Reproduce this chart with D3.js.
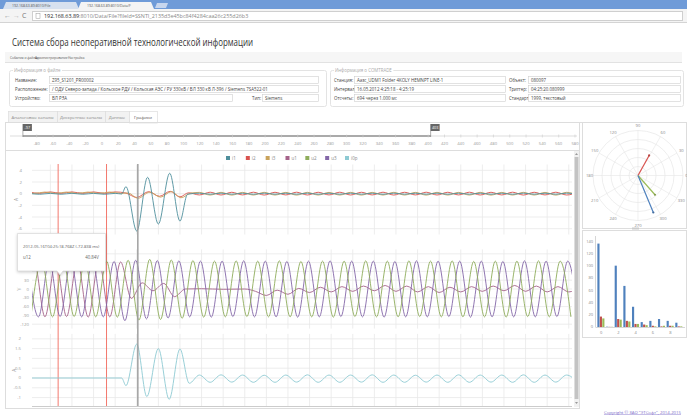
<!DOCTYPE html>
<html><head><meta charset="utf-8">
<script src="https://cdn.jsdelivr.net/npm/d3@7"></script>
<style>body{margin:0;background:#fff;overflow:hidden} svg{display:block;font-family:"Open Sans",sans-serif}</style>
</head><body><svg id="c" width="687" height="416"></svg>
<script>
// ---------------- DATA ----------------
const sliderTicks = [-80,-60,-40,-20,0,20,40,60,80,100,120,140,160,180,200,220,240,260,280,300,320,340,360,380,400,420,440,460,480,500,520,540,560,580];
const sliderRange = [-97, 403];
const seriesNames = ["i1","i2","i3","u1","u2","u3","i0p"];
const seriesColors = ["#4f8f9c","#d9534f","#c9a35c","#a5638a","#8fad5c","#8467a8","#8ecad3"];
const markerTimes = [-72.8, -28];
const cursorTime = 1;
const axA1Ticks = [-6,-4,-2,0,2,4];
const axVTicks = [-120,-90,-60,-30,0,30,60,90,120];
const axA2Ticks = [-1,-0.5,0,0.5,1,1.5,2];

// currents, channel group 1 (A): extrema [ms, A]
const i1Pre = [[-100,0.05],[-90,-0.1],[-80,0.05],[-70,-0.1],[-60,0.06],[-50,-0.1],[-40,0.05],[-30,-0.1],[-20,0.05]];
const i1Fault = [[-14,-0.05],[-10,1.2],[0,-6.4],[10,2.8],[20,-5.2],[30.5,3.5],[40,-4.7],[47,-0.1]];
const i2Pre = [[-100,0.3],[-90,0.05],[-80,0.3],[-70,0.05],[-60,0.3],[-50,0.05],[-40,0.3],[-30,0.05],[-20,0.3]];
const i2Fault = [[-10,0.1],[0,-0.65],[11,0.35],[21,-0.45],[31,0.4],[40,-0.55],[48,0.15]];
const i3Pre = [[-105,0.28],[-95,0.05],[-85,0.28],[-75,0.05],[-65,0.28],[-55,0.05],[-45,0.28],[-35,0.05],[-25,0.28],[-15,0.05]];
const i3Fault = [[-8,0.12],[1,-0.8],[12,0.25],[22,-0.6],[32,0.35],[41,-0.7],[50,0.1]];
const i0pFault = [[-100,0],[-14,0],[-10,-0.39],[0,1.73],[9.3,-0.95],[20,1.5],[30,-1.09],[40,1.48],[48.6,-0.27]];
const tPost = [58,68,78,88,98,108,118,128,138,148,158,168,178,188,198,208,218,228,238,248,258,268,278,288,298,308,318,328,338,348,358,368,378,388,398,408];
const i1Post = [0.08,-0.1,0.09,-0.1,0.08,-0.11,0.09,-0.1,0.08,-0.1,0.09,-0.11,0.08,-0.1,0.09,-0.1,0.08,-0.11,0.09,-0.1,0.08,-0.1,0.09,-0.11,0.08,-0.1,0.09,-0.1,0.08,-0.11,0.09,-0.1,0.08,-0.1,0.09,-0.11];
const i2Post = [-0.22,0.25,-0.23,0.24,-0.22,0.25,-0.24,0.24,-0.22,0.25,-0.23,0.24,-0.22,0.25,-0.23,0.24,-0.22,0.25,-0.24,0.24,-0.22,0.25,-0.23,0.24,-0.22,0.25,-0.23,0.24,-0.22,0.25,-0.24,0.24,-0.22,0.25,-0.23,0.24];
const i3Post = [0.22,-0.24,0.23,-0.25,0.22,-0.24,0.23,-0.24,0.22,-0.25,0.23,-0.24,0.22,-0.24,0.23,-0.25,0.22,-0.24,0.23,-0.24,0.22,-0.25,0.23,-0.24,0.22,-0.24,0.23,-0.25,0.22,-0.24,0.23,-0.24,0.22,-0.25,0.23,-0.24];
const i0pPost = [0.15,-0.22,0.16,-0.21,0.15,-0.22,0.14,-0.22,0.15,-0.21,0.16,-0.22,0.15,-0.22,0.15,-0.21,0.16,-0.22,0.15,-0.22,0.14,-0.21,0.15,-0.22,0.16,-0.22,0.15,-0.21,0.15,-0.22,0.16,-0.22,0.15,-0.21,0.15,-0.22];

// voltages (V): extrema times and values
const u2Times = [-98,-88,-78,-68,-58,-48,-38,-28,-18,-8,2,12,22,32,42,52,62,72,82,92,102,112,122,132,142,152,162,172,182,192,202,212,222,232,242,252,262,272,282,292,302,312,322,332,342,352,362,372,382,392,402];
const u2Vals = [-94,96,-95,95,-94,96,-95,95,-96,98,-106,101,-104,99,-100,97,-96,95,-95,96,-94,95,-95,96,-95,94,-95,95,-96,95,-94,96,-95,95,-95,96,-94,95,-95,96,-95,94,-95,95,-96,95,-94,96,-95,95,-95];
const u3Times = [-101,-91,-81,-71,-61,-51,-41,-31,-21,-11,-1,9,19,29,39,49,59,69,79,89,99,109,119,129,139,149,159,169,179,189,199,209,219,229,239,249,259,269,279,289,299,309,319,329,339,349,359,369,379,389,399,409];
const u3Vals = [95,-95,96,-94,95,-95,96,-95,94,-108,98,-102,97,-99,96,-95,95,-96,95,-94,96,-95,95,-95,94,-96,95,-95,96,-94,95,-95,95,-96,94,-95,96,-95,95,-94,95,-96,95,-95,94,-95,96,-95,95,-94,95,-95];
const u1Times = [-105,-95,-85,-75,-65,-55,-45,-35,-25,-15,-5,5,15,25,35,45,60,80,100,110,120,130,140,150,160,170,180,190,200,210,220,230,240,250,260,270,280,290,300,310,320,330,340,350,360,370,380,390,400,410];
const u1Vals = [-94,95,-95,96,-94,95,-96,95,-95,92,-32,21,-6,19,-26,0,1,-1,0,-8,-22,-4,-18,2,-12,6,-10,8,-8,10,-6,12,-8,10,-10,8,-12,6,-10,8,-8,10,-6,12,-8,10,-10,8,-10,6];

// phasors
const phasorAngles = [61, -48.6, -67.5];
const phasorMags = [0.51, 0.57, 0.89];
const phasorColors = ["#d9534f","#9bbb59","#4f81bd"];
const polarAngleLabels = [0,30,60,90,120,150,180,210,240,270,300,330];
const polarRings = [0.2,0.4,0.6,0.8,1];

// harmonics
const harmIdx = [0,1,2,3,4,5,6,7,8,9];
const harmA = [136,0.5,100,67,33,8,10,13,10,7];
const harmB = [17,0.3,13,10,5,4,2,1,2,1];
const harmC = [14,0.3,12,9,5,3,1,2,2,1];
const harmColors = ["#4f81bd","#c0504d","#9bbb59"];
const harmYTicks = [0,20,40,60,80,100,120,140];
const harmXTicks = [0,2,4,6,8];

// ---------------- DRAW ----------------
const svg = d3.select("#c");
const T = (sel,x,y,txt,size,fill,anchor)=>sel.append("text").attr("x",x).attr("y",y).text(txt)
   .attr("font-size",size).attr("fill",fill||"#444").attr("text-anchor",anchor||"start");

// browser chrome
svg.append("rect").attr("width",687).attr("height",9).attr("fill","#6f9bd8");
svg.append("path").attr("d","M3,9 L6,2 L76,2 L79,9Z").attr("fill","#d7e1ef");
svg.append("path").attr("d","M78,9 L81,2 L151,2 L154,9Z").attr("fill","#f4f4f4");
svg.append("path").attr("d","M155,8 L157,3 L168,3 L166,8Z").attr("fill","#c7d6ee");
T(svg,12,7,"192.168.63.89:8010/File",3.5,"#555");
T(svg,87,7,"192.168.63.89:8010/Data/F",3.5,"#555");
svg.append("rect").attr("y",9).attr("width",687).attr("height",13).attr("fill","#f4f4f4");
svg.append("line").attr("x1",0).attr("x2",687).attr("y1",22.5).attr("y2",22.5).attr("stroke","#d4d4d4");
T(svg,4,18,"←",7,"#999"); T(svg,13,18,"→",7,"#bbb"); T(svg,22,18,"C",7,"#777");
svg.append("rect").attr("x",32.5).attr("y",11.5).attr("width",650).attr("height",9).attr("fill","#fff").attr("stroke","#cfcfcf");
svg.append("rect").attr("x",36).attr("y",13.5).attr("width",4).attr("height",5).attr("fill","none").attr("stroke","#999").attr("stroke-width",0.5);
const url = T(svg,44,18.2,"",5.4,"#222");
url.append("tspan").text("192.168.63.89").attr("fill","#222");
url.append("tspan").text(":8010/Data/File?fileId=SSNTI_2135d3e45bc84f4284caa26c255d26b3").attr("fill","#888");

// title + menu
T(svg,12,45.5,"Система сбора неоперативной технологической информации",10.5,"#333").attr("textLength",241).attr("lengthAdjust","spacingAndGlyphs");
svg.append("rect").attr("x",5).attr("y",52).attr("width",677).attr("height",10).attr("fill","#f6f6f6");
svg.append("line").attr("x1",5).attr("x2",682).attr("y1",62.5).attr("y2",62.5).attr("stroke","#e2e2e2");
[["События и файлы",10],["Администрирование",35],["Настройка",68]].forEach(([n,x0])=>
  T(svg,x0,58.6,n,3.2,"#555"));

// fieldsets
function fieldset(x,y,w,h,leg){
  svg.append("rect").attr("x",x+.5).attr("y",y+.5).attr("width",w).attr("height",h).attr("rx",2).attr("fill","none").attr("stroke","#e3e3e3");
  const bgr = svg.append("rect").attr("fill","#fff");
  const t = T(svg,x+5,y+2,leg,4.4,"#aaa");
  const bb = t.node().getBBox();
  bgr.attr("x",bb.x-1).attr("y",y-1).attr("width",bb.width+2).attr("height",3);
}
function input(x,y,w,txt){
  svg.append("rect").attr("x",x+.5).attr("y",y+.5).attr("width",w).attr("height",7).attr("fill","#fff").attr("stroke","#cfcfcf").attr("stroke-width",0.6);
  T(svg,x+3,y+5.6,txt,4.4,"#444");
}
fieldset(9,70,317,36,"Информация о файле");
const rowsY = [76,85,94];
T(svg,15,rowsY[0]+5.6,"Название:",4.4,"#444");
T(svg,15,rowsY[1]+5.6,"Расположение:",4.4,"#444");
T(svg,15,rowsY[2]+5.6,"Устройство:",4.4,"#444");
input(49,rowsY[0],269,"Z95_S1201_PR00002");
input(49,rowsY[1],269,"/ ОДУ Северо-запада / Кольское РДУ / Кольская АЭС / РУ 330кВ / ВЛ 330 кВ Л-396 / Siemens 7SA522-01");
input(49,rowsY[2],183,"ВЛ РЗА");
T(svg,252,rowsY[2]+5.6,"Тип:",4.4,"#444");
input(262,rowsY[2],56,"Siemens");
fieldset(330,70,353,36,"Информация о COMTRADE");
T(svg,334,rowsY[0]+5.6,"Станция:",4.4,"#444");
T(svg,334,rowsY[1]+5.6,"Интервал:",4.4,"#444");
T(svg,334,rowsY[2]+5.6,"Отсчеты:",4.4,"#444");
input(354,rowsY[0],151,"Аазс_UDM1   Folder   4KOLY HEMNPT LINE-1");
input(354,rowsY[1],151,"16.05.2012 4:25:18 - 4:25:19");
input(354,rowsY[2],151,"694 через 1.000 мс");
T(svg,509,rowsY[0]+5.6,"Объект:",4.4,"#444");
T(svg,509,rowsY[1]+5.6,"Триггер:",4.4,"#444");
T(svg,509,rowsY[2]+5.6,"Стандарт:",4.4,"#444");
input(528,rowsY[0],152,"080097");
input(528,rowsY[1],152,"04:25:20.080999");
input(528,rowsY[2],152,"1999, текстовый");

// tabs
const tabs = [["Аналоговые каналы",8,49],["Дискретные каналы",57,48],["Данные",105,24],["Графики",129,28]];
svg.append("line").attr("x1",5).attr("x2",687).attr("y1",122.5).attr("y2",122.5).attr("stroke","#ddd");
tabs.forEach(([n,x,w],i)=>{
  const act = i===3;
  svg.append("rect").attr("x",x+.5).attr("y",111.5).attr("width",w).attr("height",act?11.5:11).attr("fill",act?"#fff":"#f2f2f2").attr("stroke","#ddd").attr("stroke-width",0.7);
  T(svg,x+w/2,118.8,n,4.3,act?"#555":"#888","middle");
});

// main panel frame
svg.append("rect").attr("x",5.5).attr("y",122.5).attr("width",574).attr("height",286).attr("fill","none").attr("stroke","#ddd");

// slider
const sx = d3.scaleLinear().domain([0,400]).range([102,428.2]);
svg.append("line").attr("x1",10).attr("x2",577).attr("y1",136).attr("y2",136).attr("stroke","#ddd").attr("stroke-width",1);
svg.append("line").attr("x1",sx(sliderRange[0])).attr("x2",sx(sliderRange[1])).attr("y1",136).attr("y2",136).attr("stroke","#666").attr("stroke-width",1.2);
sliderTicks.forEach(v=>{
  svg.append("line").attr("x1",sx(v)).attr("x2",sx(v)).attr("y1",134.5).attr("y2",137.5).attr("stroke","#ccc").attr("stroke-width",0.6);
  T(svg,sx(v),145,v,4.2,"#999","middle");
});
sliderRange.forEach(v=>{
  svg.append("line").attr("x1",sx(v)).attr("x2",sx(v)).attr("y1",124).attr("y2",137).attr("stroke","#777").attr("stroke-width",0.6);
  svg.append("rect").attr("x",sx(v)).attr("y",124).attr("width",9).attr("height",7).attr("fill","#666");
  T(svg,sx(v)+4.5,129.2,v,3.8,"#fff","middle");
});
svg.append("line").attr("x1",6).attr("x2",579).attr("y1",150.5).attr("y2",150.5).attr("stroke","#ddd");

// legend
const lx = d3.scalePoint().domain(seriesNames).range([226,345]);
seriesNames.forEach((n,i)=>{
  svg.append("rect").attr("x",lx(n)).attr("y",156).attr("width",4).attr("height",4).attr("fill",seriesColors[i]);
  T(svg,lx(n)+6,159.8,n,4.5,"#888");
});

// chart panels
const x = d3.scaleLinear().domain([-97,403]).range([32,572]);
const zip = (ts,vs)=>ts.map((t,i)=>[t,vs[i]]);
const col = n=>seriesColors[seriesNames.indexOf(n)];
const tipBox = {x0:17, x1:106, y0:233, y1:276};
const panels = [
  {y:d3.scaleLinear().domain([-7,5]).range([234.5,164.5]), ticks:axA1Ticks, title:"A", tx:18, lx:22,
   series:[["i2",[...i2Pre,...i2Fault,...zip(tPost,i2Post)]],["i3",[...i3Pre,...i3Fault,...zip(tPost,i3Post)]],["i1",[...i1Pre,...i1Fault,...zip(tPost,i1Post)]]]},
  {y:d3.scaleLinear().domain([-135,135]).range([328.6,249.4]), ticks:axVTicks, title:"V", tx:21, lx:29,
   series:[["u1",zip(u1Times,u1Vals)],["u3",zip(u3Times,u3Vals)],["u2",zip(u2Times,u2Vals)]]},
  {y:d3.scaleLinear().domain([-1.45,2.25]).range([406.4,333.9]), ticks:axA2Ticks, title:"A", tx:16, lx:21,
   series:[["i0p",[...i0pFault,...zip(tPost,i0pPost)]]]}
];
svg.append("defs").append("clipPath").attr("id","clip").append("rect").attr("x",32).attr("y",160).attr("width",540).attr("height",248);
const gridTimes = x.ticks(25);
panels.forEach(p=>{
  const [yb,yt] = p.y.range();
  gridTimes.forEach(t=>svg.append("line").attr("x1",x(t)).attr("x2",x(t)).attr("y1",yt).attr("y2",yb).attr("stroke","#e8e8e8").attr("stroke-width",0.8));
  p.ticks.forEach(v=>{
    svg.append("line").attr("x1",32).attr("x2",572).attr("y1",p.y(v)).attr("y2",p.y(v)).attr("stroke","#e8e8e8").attr("stroke-width",0.8);
    const yy = p.y(v);
    if (!(yy>tipBox.y0-2 && yy<tipBox.y1+2)) T(svg,p.lx,yy+1.5,v,4.3,"#999","end");
  });
  const ym = (yt+yb)/2;
  if (!(ym>tipBox.y0 && ym<tipBox.y1)) T(svg,p.tx,ym,p.title,4.8,"#999","middle").attr("transform",`rotate(-90,${p.tx},${ym})`);
});
svg.append("line").attr("x1",32).attr("x2",572).attr("y1",406.5).attr("y2",406.5).attr("stroke","#ccc");
markerTimes.forEach(t=>svg.append("line").attr("x1",x(t)).attr("x2",x(t)).attr("y1",164).attr("y2",406).attr("stroke","#f26a5e").attr("stroke-width",0.9));
const lines = svg.append("g").attr("clip-path","url(#clip)");
panels.forEach(p=>{
  const ln = d3.line().x(d=>x(d[0])).y(d=>p.y(d[1])).curve(d3.curveMonotoneX);
  p.series.forEach(([n,d])=>lines.append("path").attr("d",ln(d)).attr("fill","none").attr("stroke",col(n)).attr("stroke-width",1).attr("stroke-opacity",0.9));
});
svg.append("line").attr("x1",x(cursorTime)).attr("x2",x(cursorTime)).attr("y1",164).attr("y2",406).attr("stroke","#999").attr("stroke-width",1.4);

// tooltip
const tip = svg.append("g");
tip.append("path").attr("d","M17.5,233.5 H105.5 V271 H63 L60,275 L57,271 H17.5Z").attr("fill","#fff").attr("stroke","#d8d8d8").attr("stroke-width",0.7)
  .style("filter","drop-shadow(0px 1px 1.5px rgba(0,0,0,0.2))");
T(tip,23,248,"2012-05-16T04:25:18.768Z (-72.838 ms)",4.2,"#666");
T(tip,23,258.5,"u12",4.4,"#666"); T(tip,99,258.5,"40.84V",4.4,"#666","end");

// scrollbar
svg.append("rect").attr("x",574).attr("y",151).attr("width",5).attr("height",256).attr("fill","#f1f1f1");
svg.append("rect").attr("x",574.6).attr("y",157).attr("width",3.8).attr("height",242).attr("fill","#c3c3c3");
svg.append("path").attr("d","M575,155 L576.5,153 L578,155Z").attr("fill","#999");
svg.append("path").attr("d","M575,402 L576.5,404 L578,402Z").attr("fill","#999");

// polar chart
svg.append("rect").attr("x",582.5).attr("y",122.5).attr("width",104).attr("height",106).attr("fill","#fff").attr("stroke","#ddd");
const pcx=638, pcy=175.5;
const pr = d3.scaleLinear().domain([0,1]).range([0,45]);
const pg = svg.append("g").attr("transform",`translate(${pcx},${pcy})`);
polarRings.forEach(r=>pg.append("circle").attr("r",pr(r)).attr("fill","none").attr("stroke","#e2e2e2").attr("stroke-width",0.6));
polarAngleLabels.forEach(a=>{
  const rad = a*Math.PI/180;
  pg.append("line").attr("x1",0).attr("y1",0).attr("x2",pr(1)*Math.cos(rad)).attr("y2",-pr(1)*Math.sin(rad)).attr("stroke","#e6e6e6").attr("stroke-width",0.6);
  const lr = pr(1)+ (a===0||a===180 ? 3.5 : 5);
  pg.append("text").attr("x",lr*Math.cos(rad)).attr("y",-lr*Math.sin(rad)+1.5).text(a).attr("font-size",4.2).attr("fill","#888").attr("text-anchor","middle");
});
phasorAngles.forEach((a,i)=>{
  const rad=a*Math.PI/180, ex=pr(phasorMags[i])*Math.cos(rad), ey=-pr(phasorMags[i])*Math.sin(rad);
  pg.append("line").attr("x1",0).attr("y1",0).attr("x2",ex).attr("y2",ey).attr("stroke",phasorColors[i]).attr("stroke-width",1.2);
  pg.append("circle").attr("cx",ex).attr("cy",ey).attr("r",1.1).attr("fill",d3.color(phasorColors[i]).darker(0.5));
});

// harmonics bar chart
svg.append("rect").attr("x",582.5).attr("y",230.5).attr("width",104).attr("height",107).attr("fill","#fff").attr("stroke","#ddd");
svg.append("rect").attr("x",632).attr("y",227.5).attr("width",7).attr("height",2).attr("fill","#ccc");
const hx = d3.scaleBand().domain(harmIdx).range([596.5,683.5]).paddingInner(0.15).paddingOuter(0.1);
const hsub = d3.scaleBand().domain([0,1,2]).range([0,hx.bandwidth()]);
const hy = d3.scaleLinear().domain([0,150]).range([327,235]);
svg.append("line").attr("x1",595.5).attr("x2",595.5).attr("y1",236).attr("y2",327).attr("stroke","#bbb").attr("stroke-width",0.6);
svg.append("line").attr("x1",595.5).attr("x2",685).attr("y1",327.5).attr("y2",327.5).attr("stroke","#bbb").attr("stroke-width",0.6);
harmYTicks.forEach(v=>T(svg,593,hy(v)+1.4,v,4,"#888","end"));
harmXTicks.forEach(v=>T(svg,hx(v)+hx.bandwidth()/2,333.5,v,4,"#888","middle"));
[harmA,harmB,harmC].forEach((arr,s)=>{
  arr.forEach((v,i)=>svg.append("rect").attr("x",hx(harmIdx[i])+hsub(s)).attr("y",hy(v)).attr("width",hsub.bandwidth()-0.3).attr("height",hy(0)-hy(v)).attr("fill",harmColors[s]));
});

// footer
T(svg,681,413.5,"Copyright © ЗАО \"ЭТСофт\", 2014-2015",4.3,"#7a6ac8","end").attr("text-decoration","underline");
</script></body></html>
